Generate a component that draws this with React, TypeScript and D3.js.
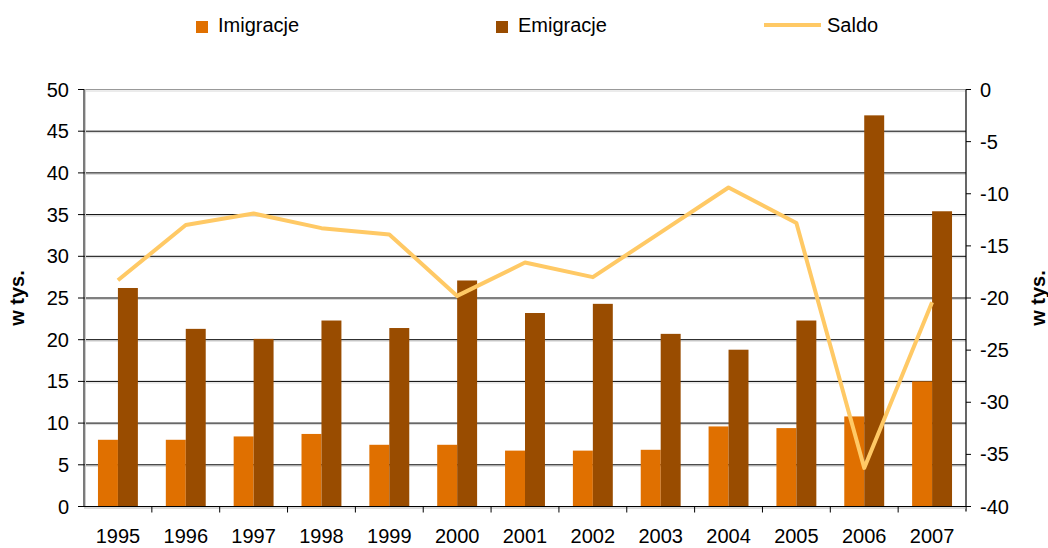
import React from 'react';
import * as d3 from 'd3';

const years = ['1995', '1996', '1997', '1998', '1999', '2000', '2001', '2002', '2003', '2004', '2005', '2006', '2007'];
const imigracje = [8.0, 8.0, 8.4, 8.7, 7.4, 7.4, 6.7, 6.7, 6.8, 9.6, 9.4, 10.8, 15.0];
const emigracje = [26.2, 21.3, 20.1, 22.3, 21.4, 27.1, 23.2, 24.3, 20.7, 18.8, 22.3, 46.9, 35.4];
const saldo = [-18.3, -13.0, -11.9, -13.3, -13.9, -19.8, -16.6, -18.0, -13.7, -9.4, -12.8, -36.3, -20.4];
const leftTicks = [0, 5, 10, 15, 20, 25, 30, 35, 40, 45, 50];
const rightTicks = [0, -5, -10, -15, -20, -25, -30, -35, -40];
const seriesNames = ['Imigracje', 'Emigracje'];

const W = 1048;
const H = 548;
const plot = { left: 84, right: 966, top: 89.5, bottom: 506.5 };
const font = '"Liberation Sans", Arial, sans-serif';
const colIm = '#E07000';
const colEm = '#994C00';
const colSaldo = '#FFC965';

export default function App() {
  const x = d3.scaleBand<string>().domain(years).range([plot.left, plot.right]);
  const inner = d3
    .scaleBand<string>()
    .domain(seriesNames)
    .range([0, x.bandwidth()])
    .paddingInner(0)
    .paddingOuter(0.7);
  const yL = d3.scaleLinear().domain([0, 50]).range([plot.bottom, plot.top]);
  const yR = d3.scaleLinear().domain([-40, 0]).range([plot.bottom, plot.top]);

  const line = d3
    .line<number>()
    .x((_, i) => (x(years[i]) as number) + x.bandwidth() / 2)
    .y((d) => yR(d));

  const series = [
    { name: 'Imigracje', values: imigracje, color: colIm },
    { name: 'Emigracje', values: emigracje, color: colEm },
  ];

  return (
    <svg
      width={W}
      height={H}
      style={{ position: 'absolute', left: 0, top: 0, background: '#fff' }}
      fontFamily={font}
    >
      {/* gridlines with a faint shadow */}
      {leftTicks.map((t) => (
        <g key={'g' + t}>
          <line x1={plot.left} x2={plot.right} y1={yL(t) + 1.5} y2={yL(t) + 1.5} stroke="#d8d8d8" strokeWidth={1} />
          <line
            x1={plot.left}
            x2={plot.right}
            y1={yL(t)}
            y2={yL(t)}
            stroke={t === 50 ? '#999' : '#000'}
            strokeWidth={1}
          />
        </g>
      ))}

      {/* bars */}
      {series.map((s) => (
        <g key={s.name}>
          {s.values.map((v, i) => (
            <rect
              key={i}
              x={(x(years[i]) as number) + (inner(s.name) as number)}
              y={yL(v)}
              width={inner.bandwidth()}
              height={yL(0) - yL(v)}
              fill={s.color}
            />
          ))}
        </g>
      ))}

      {/* left axis */}
      <line x1={plot.left + 1.5} x2={plot.left + 1.5} y1={plot.top} y2={plot.bottom + 1} stroke="#ccc" />
      <line x1={plot.left} x2={plot.left} y1={plot.top} y2={plot.bottom} stroke="#222" strokeWidth={1.2} />
      {leftTicks.map((t) => (
        <g key={'l' + t}>
          <line x1={plot.left - 6} x2={plot.left} y1={yL(t)} y2={yL(t)} stroke="#000" />
          <text x={69} y={yL(t)} dy="0.35em" textAnchor="end" fontSize={20} fill="#000">
            {t}
          </text>
        </g>
      ))}

      {/* right axis */}
      <line x1={plot.right} x2={plot.right} y1={plot.top} y2={plot.bottom + 5} stroke="#000" strokeWidth={1.2} />
      {rightTicks.map((t) => (
        <g key={'r' + t}>
          <line x1={plot.right} x2={plot.right + 5} y1={yR(t)} y2={yR(t)} stroke="#000" />
          <text x={980} y={yR(t)} dy="0.35em" textAnchor="start" fontSize={20} fill="#000">
            {t}
          </text>
        </g>
      ))}

      {/* bottom axis */}
      <line x1={plot.left} x2={plot.right} y1={plot.bottom + 1.5} y2={plot.bottom + 1.5} stroke="#ccc" />
      <line x1={plot.left} x2={plot.right} y1={plot.bottom} y2={plot.bottom} stroke="#000" strokeWidth={1.2} />
      {years.map((yr, i) => (
        <g key={yr}>
          {i > 0 && (
            <line
              x1={x(yr) as number}
              x2={x(yr) as number}
              y1={plot.bottom}
              y2={plot.bottom + 6}
              stroke="#000"
            />
          )}
          <text
            x={(x(yr) as number) + x.bandwidth() / 2}
            y={543}
            textAnchor="middle"
            fontSize={20}
            fill="#000"
          >
            {yr}
          </text>
        </g>
      ))}

      {/* saldo line */}
      <path
        d={line(saldo) || ''}
        fill="none"
        stroke={colSaldo}
        strokeWidth={4}
        strokeLinejoin="round"
      />

      {/* axis titles */}
      <text
        transform={`translate(24, ${(plot.top + plot.bottom) / 2}) rotate(-90)`}
        textAnchor="middle"
        fontSize={20}
        fontWeight="bold"
        fill="#000"
      >
        w tys.
      </text>
      <text
        transform={`translate(1045, ${(plot.top + plot.bottom) / 2}) rotate(-90)`}
        textAnchor="middle"
        fontSize={20}
        fontWeight="bold"
        fill="#000"
      >
        w tys.
      </text>

      {/* legend */}
      <rect x={196} y={21} width={12} height={12} fill={colIm} />
      <text x={218} y={32} fontSize={20} fill="#000">
        Imigracje
      </text>
      <rect x={496} y={21} width={12} height={12} fill={colEm} />
      <text x={518} y={32} fontSize={20} fill="#000">
        Emigracje
      </text>
      <line x1={764} x2={821} y1={25} y2={25} stroke={colSaldo} strokeWidth={4} />
      <text x={827} y={32} fontSize={20} fill="#000">
        Saldo
      </text>
    </svg>
  );
}
